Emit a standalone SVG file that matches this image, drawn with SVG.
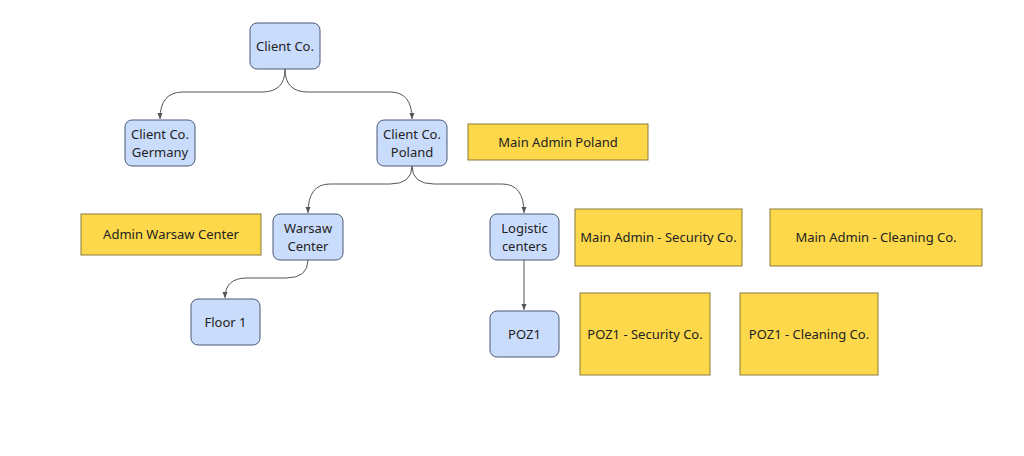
<svg xmlns="http://www.w3.org/2000/svg" width="1024" height="456" viewBox="0 0 1024 456">
<style>
.n{fill:#cadcfc;stroke:#4a5a78;stroke-width:1}
.y{fill:#fdd84a;stroke:#8a7a3a;stroke-width:1}
text{font-family:"Noto Sans",sans-serif;font-size:13px;fill:#222;text-anchor:middle}
.c{fill:none;stroke:#555;stroke-width:1;marker-end:url(#a)}
</style>
<defs><marker id="a" viewBox="0 0 8 8" refX="7" refY="4" markerWidth="7" markerHeight="7" orient="auto"><path d="M0 1 L7 4 L0 7 Z" fill="#555"/></marker></defs>
<rect width="1024" height="456" fill="#fff"/>
<g id="connectors">
<path class="c" d="M285 69 Q285 92 262 92 L183 92 Q160 92 160 119"/>
<path class="c" d="M285 69 Q285 92 308 92 L390 92 Q412 92 412 119"/>
<path class="c" d="M412 166 Q412 184 390 184 L330 184 Q308 184 308 213"/>
<path class="c" d="M412 166 Q412 184 434 184 L502 184 Q524 184 524 213"/>
<path class="c" d="M308 260 Q308 278 286 278 L247 278 Q225 278 225 298"/>
<path class="c" d="M524 260 L524 310"/>
</g>
<g id="client"><rect class="n" x="250" y="23" width="70" height="46" rx="7"/><text x="285" y="51">Client Co.</text></g>
<g id="germany"><rect class="n" x="125" y="120" width="70" height="46" rx="7"/><text x="160" y="139">Client Co.</text><text x="160" y="157">Germany</text></g>
<g id="poland"><rect class="n" x="377" y="120" width="70" height="46" rx="7"/><text x="412" y="139">Client Co.</text><text x="412" y="157">Poland</text></g>
<g id="mainadmin"><rect class="y" x="468" y="124" width="180" height="36"/><text x="558" y="147">Main Admin Poland</text></g>
<g id="adminwarsaw"><rect class="y" x="81" y="214" width="180" height="41"/><text x="171" y="239">Admin Warsaw Center</text></g>
<g id="warsaw"><rect class="n" x="273" y="214" width="70" height="46" rx="7"/><text x="308" y="233">Warsaw</text><text x="308" y="251">Center</text></g>
<g id="logistic"><rect class="n" x="490" y="214" width="69" height="46" rx="7"/><text x="524.5" y="233">Logistic</text><text x="524.5" y="251">centers</text></g>
<g id="mainsec"><rect class="y" x="575" y="209" width="167" height="57"/><text x="658.5" y="242">Main Admin - Security Co.</text></g>
<g id="mainclean"><rect class="y" x="770" y="209" width="212" height="57"/><text x="876" y="242">Main Admin - Cleaning Co.</text></g>
<g id="floor1"><rect class="n" x="191" y="299" width="69" height="46" rx="7"/><text x="225.5" y="327">Floor 1</text></g>
<g id="poz1"><rect class="n" x="490" y="311" width="69" height="46" rx="7"/><text x="524.5" y="339">POZ1</text></g>
<g id="pozsec"><rect class="y" x="580" y="293" width="130" height="82"/><text x="645" y="339">POZ1 - Security Co.</text></g>
<g id="pozclean"><rect class="y" x="740" y="293" width="138" height="82"/><text x="809" y="339">POZ1 - Cleaning Co.</text></g>
</svg>
